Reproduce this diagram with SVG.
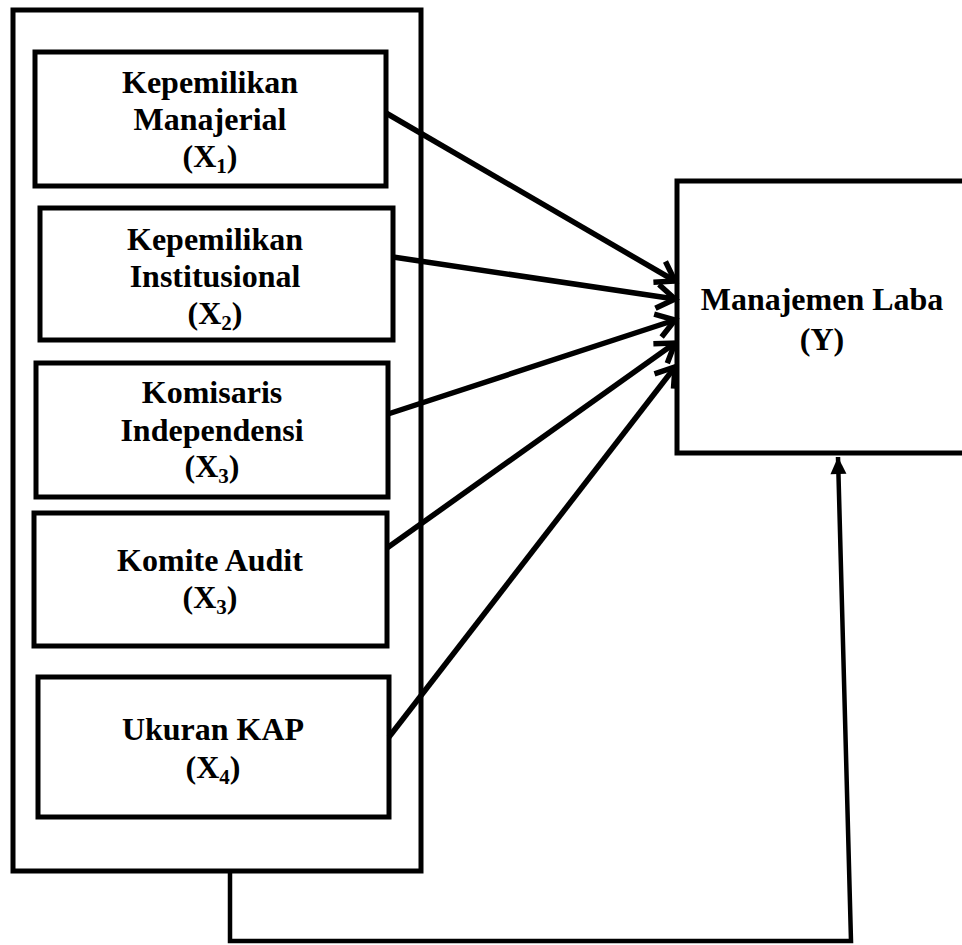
<svg xmlns="http://www.w3.org/2000/svg" width="962" height="945" viewBox="0 0 962 945">
<style>
.box{fill:none;stroke:#000;stroke-width:5;}
.t{font-family:"Liberation Serif","Times New Roman",serif;font-weight:bold;font-size:32px;text-anchor:middle;fill:#000;}
.sub{font-size:21px;}
.arr{fill:none;stroke:#000;stroke-width:5.5;stroke-linecap:butt;}
.fb{fill:none;stroke:#000;stroke-width:4.5;}
</style>
<defs>
<marker id="chev" markerUnits="userSpaceOnUse" markerWidth="32" markerHeight="34" refX="0" refY="0" viewBox="-24 -17 28 34" orient="auto">
<path d="M-18,-12 L0,0 L-18,12" fill="none" stroke="#000" stroke-width="5.5" stroke-linejoin="miter"/>
</marker>
<marker id="tri" markerUnits="userSpaceOnUse" markerWidth="22" markerHeight="22" refX="0" refY="0" viewBox="-19 -11 21 22" orient="auto">
<path d="M-17,-8 L0,0 L-17,8 Z" fill="#000"/>
</marker>
</defs>
<rect x="0" y="0" width="962" height="945" fill="#fff"/>
<g id="outer"><rect class="box" x="13" y="10" width="408" height="861"/></g>
<g id="x1">
<rect class="box" x="35" y="52" width="351" height="134"/>
<text class="t" x="210" y="93">Kepemilikan</text>
<text class="t" x="210" y="130">Manajerial</text>
<text class="t" x="210" y="167">(X<tspan class="sub" dy="6">1</tspan><tspan dy="-6">)</tspan></text>
</g>
<g id="x2">
<rect class="box" x="40" y="208" width="353" height="132"/>
<text class="t" x="215" y="250">Kepemilikan</text>
<text class="t" x="215" y="287">Institusional</text>
<text class="t" x="215" y="324">(X<tspan class="sub" dy="6">2</tspan><tspan dy="-6">)</tspan></text>
</g>
<g id="x3a">
<rect class="box" x="36" y="363" width="352" height="134"/>
<text class="t" x="212" y="403">Komisaris</text>
<text class="t" x="212" y="441">Independensi</text>
<text class="t" x="212" y="477">(X<tspan class="sub" dy="6">3</tspan><tspan dy="-6">)</tspan></text>
</g>
<g id="x3b">
<rect class="box" x="34" y="513" width="353" height="133"/>
<text class="t" x="210" y="571">Komite Audit</text>
<text class="t" x="210" y="608">(X<tspan class="sub" dy="6">3</tspan><tspan dy="-6">)</tspan></text>
</g>
<g id="x4">
<rect class="box" x="38" y="677" width="351" height="140"/>
<text class="t" x="213" y="740">Ukuran KAP</text>
<text class="t" x="213" y="778">(X<tspan class="sub" dy="6">4</tspan><tspan dy="-6">)</tspan></text>
</g>
<g id="y">
<path class="box" d="M962,181 L677,181 L677,453 L962,453"/>
<text class="t" x="822" y="310">Manajemen Laba</text>
<text class="t" x="822" y="350">(Y)</text>
</g>
<g id="connectors">
<line class="arr" x1="386" y1="113" x2="675" y2="281" marker-end="url(#chev)"/>
<line class="arr" x1="393" y1="257" x2="675" y2="299" marker-end="url(#chev)"/>
<line class="arr" x1="388" y1="414" x2="675" y2="320" marker-end="url(#chev)"/>
<line class="arr" x1="387" y1="548" x2="675" y2="343" marker-end="url(#chev)"/>
<line class="arr" x1="389" y1="737" x2="675" y2="367" marker-end="url(#chev)"/>
<path class="fb" d="M230,871 L230,941 L851,941 L838,457" marker-end="url(#tri)"/>
</g>
</svg>
